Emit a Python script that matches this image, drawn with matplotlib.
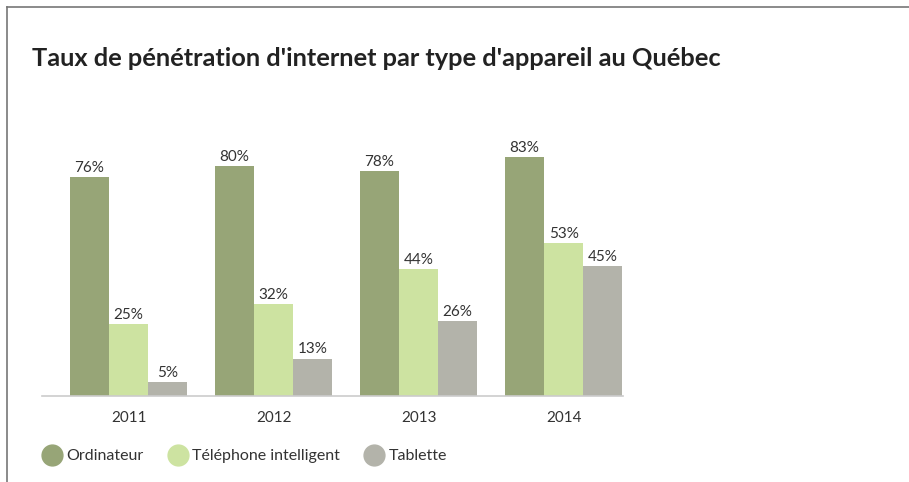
import matplotlib
matplotlib.use("Agg")
import matplotlib.pyplot as plt
from matplotlib.lines import Line2D
import numpy as np

# Data
years = ["2011", "2012", "2013", "2014"]
series_names = ["Ordinateur", "Téléphone intelligent", "Tablette"]
ordinateur = [76, 80, 78, 83]
telephone = [25, 32, 44, 53]
tablette = [5, 13, 26, 45]

colors = ["#97a577", "#cde3a1", "#b3b3aa"]
text_color = "#333333"

plt.rcParams['font.family'] = ['Lato', 'DejaVu Sans']

W, H = 909, 482
fig = plt.figure(figsize=(W / 100, H / 100), dpi=100)

# axes in pixel coordinates: x 42..623, baseline at y=396, 2.88 px per %
left, right, base = 42, 623, 396
top = base - 288
ax = fig.add_axes([left / W, (H - base) / H, (right - left) / W, (base - top) / H])

x = np.arange(len(years))
width = 0.269
for i, (vals, name) in enumerate(zip([ordinateur, telephone, tablette], series_names)):
    pos = x + (i - 1) * width
    bars = ax.bar(pos, vals, width, color=colors[i], label=name)
    for b, v in zip(bars, vals):
        ax.annotate(f"{v}%", (b.get_x() + b.get_width() / 2, v),
                    xytext=(0, 1.5), textcoords="offset points",
                    ha="center", va="bottom", fontsize=11, color=text_color)

ax.set_xlim(-0.597, 3.41)
ax.set_ylim(0, 100)
ax.set_xticks(x)
ax.set_xticklabels(years, fontsize=11, color=text_color)
ax.tick_params(axis="x", length=0, pad=10.5)
ax.set_yticks([])
for s in ["top", "right", "left"]:
    ax.spines[s].set_visible(False)
ax.spines["bottom"].set_color("#cccccc")
ax.spines["bottom"].set_linewidth(1.2)

# Title
fig.text(32 / W, 1 - 58 / H, "Taux de pénétration d'internet par type d'appareil au Québec",
         fontsize=18.3, fontweight="bold", color="#222222", va="center", ha="left")

# Legend
handles = [Line2D([], [], marker="o", linestyle="none", markersize=15,
                  markerfacecolor=c, markeredgecolor=c) for c in colors]
fig.legend(handles, series_names, loc="center left", bbox_to_anchor=(34 / W, 1 - 456 / H),
           ncol=3, frameon=False, fontsize=11.5, handletextpad=0.2, columnspacing=1.45,
           labelcolor=text_color, borderaxespad=0, handlelength=1.4)

# Frame lines (top and left)
fig.add_artist(Line2D([7 / W, 1], [1 - 7 / H, 1 - 7 / H], color="#777777", linewidth=1.2))
fig.add_artist(Line2D([7 / W, 7 / W], [0, 1 - 7 / H], color="#777777", linewidth=1.2))

fig.savefig("out.png", dpi=100)
